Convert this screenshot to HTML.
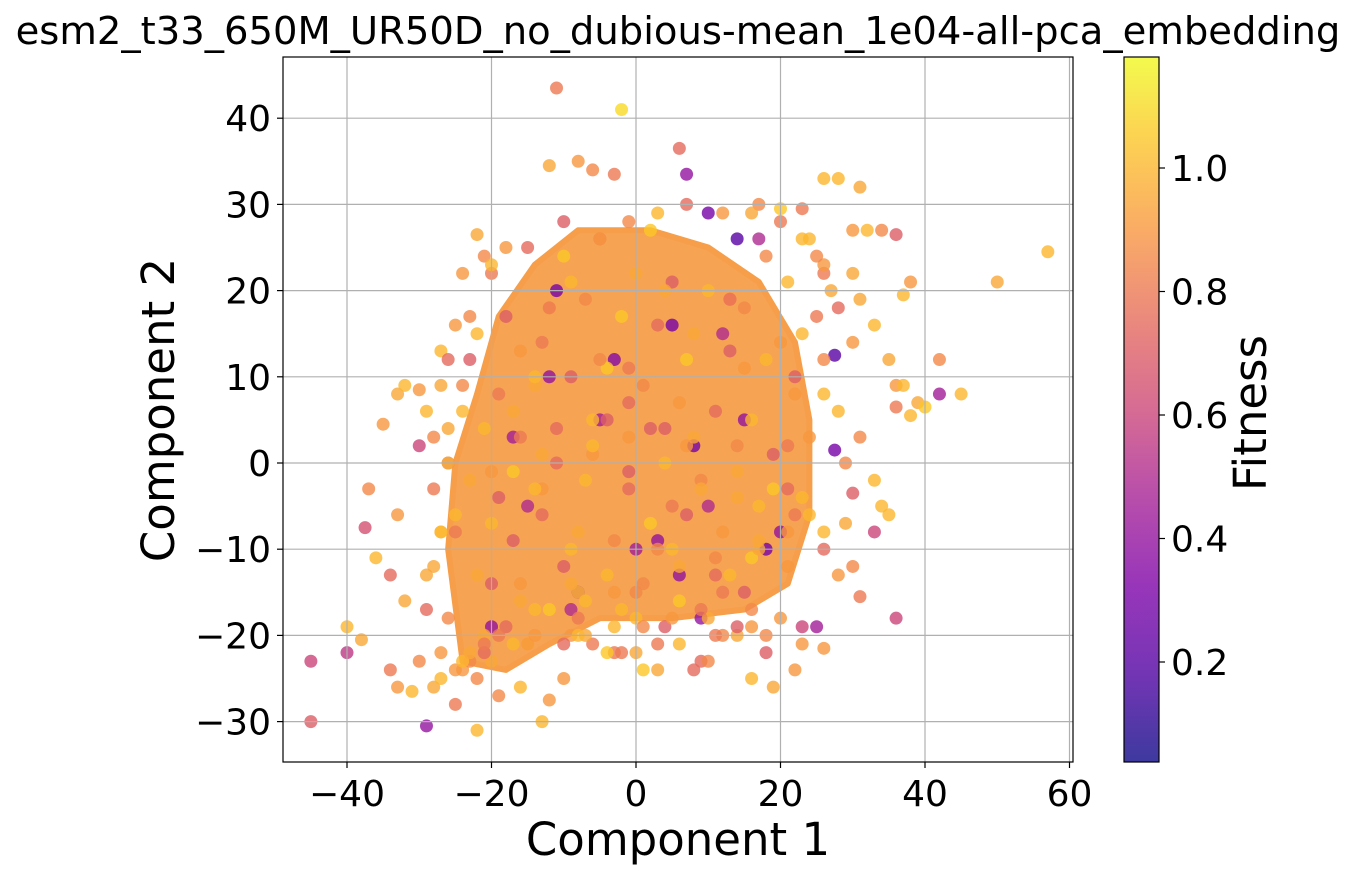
<!DOCTYPE html>
<html><head><meta charset="utf-8"><style>
body{margin:0;background:#fff;}
svg{display:block;font-family:"DejaVu Sans","Liberation Sans",sans-serif;}
</style></head><body>
<svg id="chart" width="1356" height="872" viewBox="0 0 1356 872" xmlns="http://www.w3.org/2000/svg"></svg>
<script>
const xTicks=[-40,-20,0,20,40,60];
const yTicks=[-30,-20,-10,0,10,20,30,40];
const cbTicks=[0.2,0.4,0.6,0.8,1.0];
const xTickLabels=["\u221240","\u221220","0","20","40","60"];
const yTickLabels=["\u221230","\u221220","\u221210","0","10","20","30","40"];
const cbTickLabels=["0.2","0.4","0.6","0.8","1.0"];
// dense core outline (data coords)
const coreX=[-24,-18,-12,-5,5,15,21,24,24,22,17,10,2,-8,-14,-19,-22,-25,-26];
const coreY=[-23,-24,-21,-18,-18,-17,-14,-6,5,14,21,25,27,27,23,17,8,0,-10];
// points: x, y, fitness
const px=[-45,-45,-40,-40,-37.5,-37,-38,-35,-33,-32,-30,-29,-33,-31,-34,-30,-32,-34,-36,-33,-30,-29,-27,-25,-23,-22,-21,-20,-22,-11,-2,6,7,10,-12,-8,-6,-3,14,17,17,20,23,26,28,31,30,32,34,36,38,37,31,33,35,36,37,38,36,39,40,42,42,45,50,57,27.5,27.5,31,33,30,34,33,35,36,30,31,26,23,25,23,-13,-16,-19,-12,-25,-2,3,14,18,28,26,29,29,28,30,28,26,24,30,-24,-26,-28,-27,-28,-26,-24,-26,
-11,-12,5,8,3,18,-8,-20,-9,0,10,15,-5,12,-15,6,20,-3,-17,9,
-20,-15,-10,-5,0,5,10,15,20,-22,-18,-12,-7,-2,3,8,13,18,22,-24,-19,-14,-9,-4,1,6,11,16,21,-23,-17,-11,-6,-1,4,9,14,19,23,-25,-20,-13,-8,-3,2,7,12,17,22,-22,-16,-10,-4,1,6,11,16,21,-20,-14,-8,-2,4,10,16,20,-18,-12,-6,0,6,12,18,-15,-9,-3,3,9,-10,-4,2,8,14,
-21,-16,-11,-6,-1,4,9,14,19,-19,-13,-7,-1,5,11,17,-17,-9,-1,7,15,-23,-14,-5,4,13,21,-12,-3,6,15,-16,-8,0,8,16,22,-20,-10,2,12,-6,3,
21,23,-26,-29,24,-24,-21,19,16,-14,-4,10,26,-27,13,-18,1,-1,7,-7,11,-13,22,-25,18,-16,0,5,-9,14,
-27,-28,-27,-29,-26,-28,-25,-27,-23,-21,-19,-17,-14,-10,-7,-3,1,5,9,13,17,21,24,26,26,25,27,26,25,23,20,16,12,7,3,-1,-5,-9,-13,-17,-20,-22,-24,-23,-21,-15,-8,0,8,16];
const py=[-23,-30,-22,-19,-7.5,-3,-20.5,4.5,8,9,8.5,-30.5,-26,-26.5,-24,-23,-16,-13,-11,-6,2,6,13,16,17,26.5,24,22,-31,43.5,41,36.5,33.5,29,34.5,35,34,33.5,26,26,30,29.5,29.5,33,33,32,27,27,27,26.5,21,19.5,19,16,12,9,9,5.5,6.5,7,6.5,8,12,8,21,24.5,12.5,1.5,3,-2,-3.5,-5,-8,-6,-18,-12,-15.5,-21.5,-19,-19,-21,-30,-26,-27,-27.5,-28,-22,-21,-20,-20,-13,-10,-7,0,6,14,18,22,26,22,-24,-18,-12,-8,-3,4,9,0,
20,10,16,2,-9,-10,-15,-19,-17,-10,-5,5,5,15,-5,-13,-8,12,3,-18,
23,25,24,26,22,21,20,18,14,15,17,18,19,17,16,15,13,12,8,6,8,9,10,11,9,7,6,5,2,-2,-1,0,1,-1,0,-2,-1,1,-4,-8,-7,-6,-8,-9,-7,-6,-8,-5,-6,-13,-14,-12,-13,-14,-12,-13,-11,-12,-14,-17,-18,-17,-19,-18,-17,-18,-19,-17,-21,-22,-21,-20,-22,-21,-20,-22,-24,-23,-25,-22,
4,3,2,4,3,4,2,3,4,-3,-4,-3,-4,-3,-2,-3,-10,-11,-10,-9,-10,11,12,11,12,10,12,20,19,21,18,-15,-16,-15,-16,-15,-15,-24,-25,-24,-23,28,27,
-15,5,-10,-8,15,12,-13,-6,22,-22,-26,-19,-3,5,-23,-8,9,19,25,-24,7,2,-16,-20,1,10,-6,24,13,-18,
-5,-14,-19,-8,3,-22,-17,0,-26,-24,-25,-23,-20,-20,-21,-20,-21,-20,-19,-19,-18,-17,-13,-9,-3,3,8,12,17,20,23,24,26,28,29,29,30,29,28,26,21,14,6,-1,-25,-23,-22,-21,-21,-20];
const pf=[0.6,0.7,0.55,1.0,0.65,0.85,0.95,0.9,0.95,1.0,0.9,0.4,0.9,1.0,0.8,0.85,0.95,0.75,1.0,0.9,0.6,1.0,1.0,0.9,0.85,0.95,0.85,0.8,1.0,0.8,1.1,0.75,0.4,0.3,0.95,0.9,0.85,0.8,0.2,0.5,0.85,1.05,0.8,1.0,1.0,0.95,0.9,1.0,0.85,0.7,0.9,1.0,0.95,1.0,0.95,0.9,1.0,1.0,0.8,0.95,1.05,0.45,0.85,1.0,0.95,1.0,0.2,0.3,0.85,1.0,0.7,1.0,0.6,1.0,0.6,0.85,0.8,0.9,0.6,0.45,0.9,1.0,1.0,0.85,0.9,0.8,0.8,0.8,0.95,0.85,0.9,0.75,0.95,0.85,1.0,0.9,0.75,0.8,1.0,0.95,0.9,0.85,0.95,1.0,0.8,0.95,0.85,0.6,
0.3,0.4,0.3,0.3,0.4,0.3,0.45,0.4,0.5,0.45,0.5,0.4,0.45,0.5,0.5,0.4,0.4,0.35,0.45,0.4,
1.0,0.75,1.05,0.8,0.95,0.7,1.0,0.85,0.9,1.0,0.7,0.95,0.85,1.05,0.75,0.95,0.7,1.0,0.9,1.0,0.8,0.95,0.7,1.05,0.85,0.9,0.75,1.0,0.8,0.95,1.05,0.75,0.9,0.7,1.0,0.85,0.95,0.7,1.0,0.8,1.0,0.75,0.95,0.85,1.05,0.7,0.9,1.0,0.8,0.95,0.9,0.7,1.0,0.85,0.95,0.75,1.05,0.9,0.7,1.0,0.8,1.0,0.7,0.95,0.85,0.9,0.75,1.05,0.8,0.95,1.0,0.85,0.7,1.0,0.9,0.8,0.95,0.75,0.9,1.05,0.7,0.95,0.85,1.0,0.8,0.75,1.0,0.9,0.7,0.95,
0.95,1.05,0.7,0.9,1.0,0.75,1.0,0.85,0.95,0.7,1.0,0.8,1.05,0.9,0.7,1.0,0.85,0.95,0.75,1.0,0.8,0.9,1.05,0.7,0.95,1.0,0.85,0.75,1.0,0.9,0.95,0.7,1.05,0.8,1.0,0.85,0.9,1.0,0.75,0.95,1.0,0.9,
0.75,0.95,0.9,1.0,0.7,0.85,1.0,0.95,0.8,0.9,1.05,0.75,0.9,1.0,0.8,0.95,0.7,1.0,0.85,0.9,1.0,0.8,0.95,0.7,1.0,0.85,0.9,0.75,1.0,0.95,
0.9,1.0,0.85,0.95,0.8,1.0,0.9,0.75,0.95,1.0,0.85,0.9,0.8,1.0,0.95,0.75,0.9,1.0,0.85,0.8,0.95,0.9,0.85,1.0,0.8,0.95,0.9,0.75,1.0,0.85,0.9,1.0,0.8,0.95,0.9,0.85,1.0,0.95,0.8,0.9,1.0,0.85,0.95,0.9,0.9,0.85,1.0,0.95,0.8,0.9];

const L=283,R=1073,T=57,B=762;
const X=v=>636+v*7.225;
const Y=v=>463-v*8.62;
const CB=v=>168-(v-1.0)*617.5;
const stops=[[0,13,8,135],[0.13,84,2,163],[0.25,126,3,168],[0.38,168,34,150],[0.5,204,71,120],[0.63,230,108,92],[0.75,248,149,64],[0.88,253,196,39],[1,240,249,33]];
function plasma(t){t=Math.max(0,Math.min(1,t));for(let i=1;i<stops.length;i++){if(t<=stops[i][0]){const a=stops[i-1],b=stops[i];const u=(t-a[0])/(b[0]-a[0]);return `rgb(${[1,2,3].map(k=>Math.round(a[k]+(b[k]-a[k])*u)).join(',')})`;}}return 'rgb(240,249,33)';}
const fmin=0.038,fmax=1.18;
const NS='http://www.w3.org/2000/svg';
const svg=document.getElementById('chart');
function el(tag,attrs,parent){const e=document.createElementNS(NS,tag);for(const k in attrs)e.setAttribute(k,attrs[k]);(parent||svg).appendChild(e);return e;}

let t=el('text',{x:678,y:44,'text-anchor':'middle','font-size':38.5,fill:'#000'});


t.textContent='esm2_t33_650M_UR50D_no_dubious-mean_1e04-all-pca_embedding';

const defs=el('defs',{});
const cp=el('clipPath',{id:'clip'},defs);el('rect',{x:L,y:T,width:R-L,height:B-T},cp);
const plot=el('g',{'clip-path':'url(#clip)'});



const core=el('polygon',{points:coreX.map((v,i)=>X(v)+','+Y(coreY[i])).join(' '),fill:'#f69e4a','fill-opacity':0.95,'stroke':'#f69e4a','stroke-width':6,'stroke-linejoin':'round'},plot);



for(let i=0;i<px.length;i++){
  const c=el('circle',{cx:X(px[i]),cy:Y(py[i]),r:6.5,fill:plasma((pf[i]-fmin)/(fmax-fmin)),'fill-opacity':0.8},plot);
  
  
}
xTicks.forEach(v=>{const g=el('line',{x1:X(v),x2:X(v),y1:T,y2:B,stroke:'#b0b0b0','stroke-width':1.2},plot);});
yTicks.forEach(v=>{const g=el('line',{x1:L,x2:R,y1:Y(v),y2:Y(v),stroke:'#b0b0b0','stroke-width':1.2},plot);});

const frame=el('rect',{x:L,y:T,width:R-L,height:B-T,fill:'none',stroke:'#000','stroke-width':1.2});



xTicks.forEach((v,i)=>{el('line',{x1:X(v),x2:X(v),y1:B,y2:B+6,stroke:'#000','stroke-width':1.2});
  const l=el('text',{x:X(v),y:B+44,'text-anchor':'middle','font-size':36});l.textContent=xTickLabels[i];});
yTicks.forEach((v,i)=>{el('line',{x1:L-6,x2:L,y1:Y(v),y2:Y(v),stroke:'#000','stroke-width':1.2});
  const l=el('text',{x:L-12,y:Y(v)+13,'text-anchor':'end','font-size':36});l.textContent=yTickLabels[i];});

let xl=el('text',{x:678,y:855,'text-anchor':'middle','font-size':45});


xl.textContent='Component 1';
let yl=el('text',{x:174,y:410,'text-anchor':'middle','font-size':45,transform:'rotate(-90 174 410)'});


yl.textContent='Component 2';

const lg=el('linearGradient',{id:'cbg',x1:0,y1:1,x2:0,y2:0},defs);
for(let k=0;k<=20;k++){el('stop',{offset:k/20,'stop-color':plasma(k/20),'stop-opacity':0.8},lg);}
const cb=el('rect',{x:1124,y:T,width:35,height:B-T,fill:'url(#cbg)',stroke:'#000','stroke-width':1.2});


cbTicks.forEach((v,i)=>{el('line',{x1:1159,x2:1165,y1:CB(v),y2:CB(v),stroke:'#000','stroke-width':1.2});
  const l=el('text',{x:1171,y:CB(v)+13,'font-size':36});l.textContent=cbTickLabels[i];});
let cl=el('text',{x:1266,y:413,'text-anchor':'middle','font-size':45,transform:'rotate(-90 1266 413)'});


cl.textContent='Fitness';
</script>
</body></html>
